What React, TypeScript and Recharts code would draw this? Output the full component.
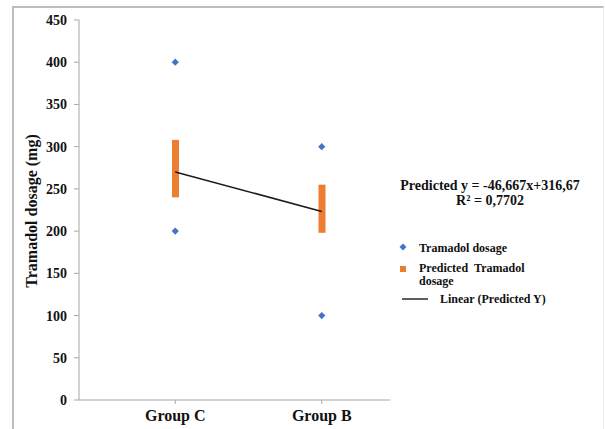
import React from "react";
import {
  Bar,
  ComposedChart,
  Line,
  Scatter,
  XAxis,
  YAxis,
} from "recharts";

// groups along the x axis
const groups = ["Group C", "Group B"];
// observed tramadol dosage (two patients per group)
const dosageHigh = [400, 300];
const dosageLow = [200, 100];
// predicted dosage range per group
const predictedLow = [240, 198];
const predictedHigh = [308, 255];
// linear fit through the predicted values
const linearFit = [270.0, 223.34];
const yTicks = [0, 50, 100, 150, 200, 250, 300, 350, 400, 450];

const data = groups.map((group, i) => ({
  group,
  dosageHigh: dosageHigh[i],
  dosageLow: dosageLow[i],
  predicted: [predictedLow[i], predictedHigh[i]],
  linear: linearFit[i],
}));

const BLUE = "#4472C4";
const ORANGE = "#ED7D31";
const AXIS = "#a6a6a6";
const FONT = "'Liberation Serif', 'Times New Roman', serif";

const Diamond = (props: any) => {
  const { cx, cy } = props;
  if (cx == null || cy == null) return null;
  const r = 3.6;
  return (
    <polygon
      points={`${cx},${cy - r} ${cx + r},${cy} ${cx},${cy + r} ${cx - r},${cy}`}
      fill={BLUE}
    />
  );
};

const tickStyle = { fontFamily: FONT, fontWeight: 700, fill: "#111" };

export default function App() {
  return (
    <div
      style={{
        position: "absolute",
        left: 0,
        top: 0,
        width: 605,
        height: 429,
        background: "#fff",
        overflow: "hidden",
        fontFamily: FONT,
      }}
    >
      <div
        style={{
          position: "absolute",
          left: 12,
          top: 6,
          width: 589,
          height: 440,
          borderTop: "2px solid #bdbdbd",
          borderLeft: "2px solid #bdbdbd",
          borderRight: "1px solid #eeeeee",
        }}
      />
      <ComposedChart
        width={605}
        height={429}
        data={data}
        margin={{ top: 20, right: 215, bottom: 0, left: 29 }}
        style={{ position: "absolute", left: 0, top: 0 }}
      >
        <XAxis
          dataKey="group"
          height={29}
          padding={{ left: 23, right: -5 }}
          stroke={AXIS}
          tickSize={4}
          tickLine={{ stroke: AXIS }}
          tick={{ ...tickStyle, fontSize: 16 }}
          tickMargin={6}
        />
        <YAxis
          width={50}
          domain={[0, 450]}
          ticks={yTicks}
          interval={0}
          stroke={AXIS}
          tickSize={5}
          tickMargin={7}
          tick={{ ...tickStyle, fontSize: 14 }}
        />
        <Bar
          dataKey="predicted"
          fill={ORANGE}
          barSize={7}
          isAnimationActive={false}
        />
        <Line
          dataKey="linear"
          stroke="#1a1a1a"
          strokeWidth={1.6}
          dot={false}
          isAnimationActive={false}
        />
        <Scatter
          dataKey="dosageHigh"
          shape={<Diamond />}
          isAnimationActive={false}
        />
        <Scatter
          dataKey="dosageLow"
          shape={<Diamond />}
          isAnimationActive={false}
        />
      </ComposedChart>
      <svg
        width={605}
        height={429}
        style={{ position: "absolute", left: 0, top: 0, pointerEvents: "none" }}
        fontFamily={FONT}
        fontWeight={700}
        fill="#111"
      >
        <text
          transform="translate(37,211) rotate(-90)"
          textAnchor="middle"
          fontSize={16}
        >
          Tramadol dosage (mg)
        </text>

        <text x={490} y={190} textAnchor="middle" fontSize={14}>
          Predicted y = -46,667x+316,67
        </text>
        <text x={490} y={205} textAnchor="middle" fontSize={14}>
          R² = 0,7702
        </text>

        <polygon points="403,243.5 406.5,247 403,250.5 399.5,247" fill={BLUE} />
        <text x={419} y={252} fontSize={12}>
          Tramadol dosage
        </text>
        <rect x={400} y={266} width={6} height={6} fill={ORANGE} />
        <text x={419} y={271.5} fontSize={12}>
          Predicted{"\u00a0\u00a0"}Tramadol
        </text>
        <text x={419} y={285} fontSize={12}>
          dosage
        </text>
        <line x1={402} y1={299} x2={428} y2={299} stroke="#1a1a1a" strokeWidth={1.4} />
        <text x={440} y={303} fontSize={12}>
          Linear (Predicted Y)
        </text>
      </svg>
    </div>
  );
}
